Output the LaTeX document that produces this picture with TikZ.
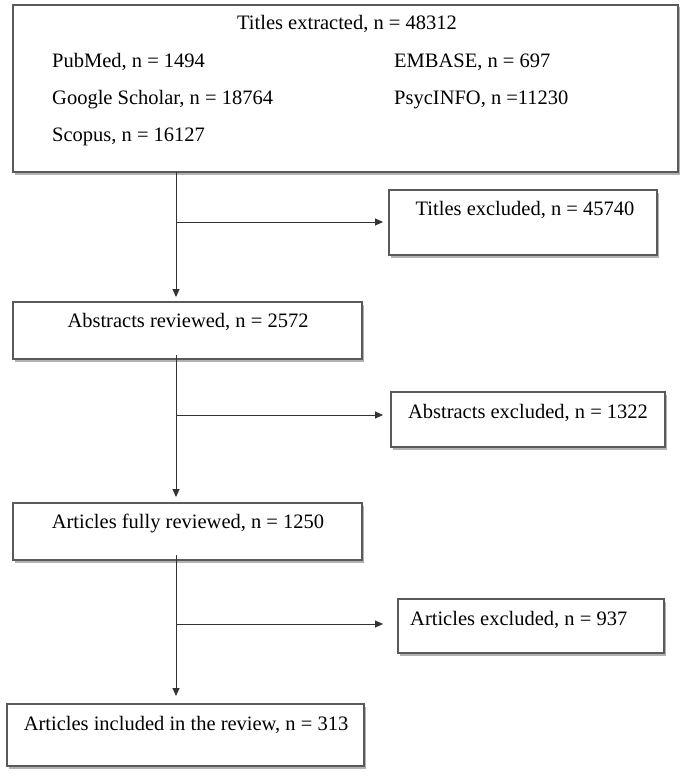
\documentclass[tikz,border=0pt]{standalone}
\usepackage{fontspec}
\setmainfont{Liberation Serif}
\usetikzlibrary{arrows.meta,shadows}
\definecolor{boxline}{HTML}{5A5A5A}
\definecolor{arrline}{HTML}{333333}
\tikzset{
  box/.style={draw=boxline, line width=1.3pt, fill=white, rectangle, inner sep=0pt, outer sep=0pt, anchor=north west,
    drop shadow={shadow xshift=1.5pt, shadow yshift=-2.5pt, fill=black, opacity=0.3}},
  txt/.style={inner sep=0pt, font=\fontsize{20.5}{24}\selectfont},
  conn/.style={draw=arrline, line width=0.9pt},
  arr/.style={conn, -{Triangle[length=8pt,width=7pt]}},
}
\begin{document}
\begin{tikzpicture}[x=1pt,y=-1pt]
\fill[white] (0,0) rectangle (686,778);
\useasboundingbox (0,0) rectangle (686,778);

% boxes
\node[box, minimum width=665pt, minimum height=167pt] (top) at (13,5) {};
\node[box, minimum width=268pt, minimum height=65pt] (titlesEx) at (389,190) {};
\node[box, minimum width=349pt, minimum height=57pt] (absRev) at (13,302) {};
\node[box, minimum width=274pt, minimum height=55pt] (absEx) at (391,392) {};
\node[box, minimum width=349pt, minimum height=57pt] (artRev) at (13,503) {};
\node[box, minimum width=266pt, minimum height=54pt] (artEx) at (398,599) {};
\node[box, minimum width=357pt, minimum height=62pt] (artInc) at (7,704) {};

% texts
\node[txt, anchor=base] (tT) at (347,30) {Titles extracted, n = 48312};
\node[txt, anchor=base west] (tP) at (52,68) {PubMed, n = 1494};
\node[txt, anchor=base west] (tE) at (394,68) {EMBASE, n = 697};
\node[txt, anchor=base west] (tG) at (52,105) {Google Scholar, n = 18764};
\node[txt, anchor=base west] (tPs) at (394,105) {PsycINFO, n =11230};
\node[txt, anchor=base west] (tS) at (52,142) {Scopus, n = 16127};
\node[txt, anchor=base] (tTE) at (525,215) {Titles excluded, n = 45740};
\node[txt, anchor=base] (tAR) at (188,327) {Abstracts reviewed, n = 2572};
\node[txt, anchor=base] (tAE) at (528,418) {Abstracts excluded, n = 1322};
\node[txt, anchor=base] (tFR) at (188,528) {Articles fully reviewed, n = 1250};
\node[txt, anchor=base west] (tXE) at (410,625) {Articles excluded, n = 937};
\node[txt, anchor=base] (tIN) at (186,730) {Articles included in the review, n = 313};

% trunk and branch points
\coordinate (trunk) at (176,0);
\coordinate (b1) at (176,222);
\coordinate (b2) at (176,415);
\coordinate (b3) at (176,624);

% vertical connectors
\draw[arr, shorten >=5pt] (trunk |- top.south) -- (trunk |- absRev.north);
\draw[arr, shorten <=-4pt, shorten >=6pt] (trunk |- absRev.south) -- (trunk |- artRev.north);
\draw[arr, shorten <=-5pt, shorten >=8pt] (trunk |- artRev.south) -- (trunk |- artInc.north);

% branch connectors
\draw[arr, shorten >=6pt] (b1) -- (b1 -| titlesEx.west);
\draw[arr, shorten >=8pt] (b2) -- (b2 -| absEx.west);
\draw[arr, shorten >=15pt] (b3) -- (b3 -| artEx.west);
\end{tikzpicture}
\end{document}
